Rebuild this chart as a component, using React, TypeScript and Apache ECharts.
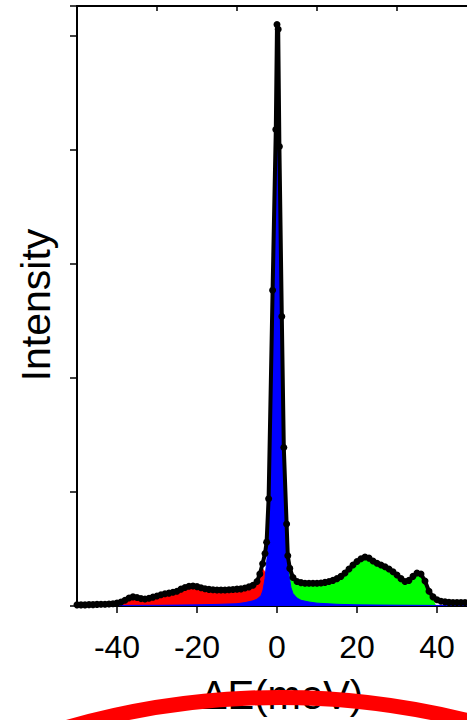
import React, { useEffect, useRef } from "react";
import * as echarts from "echarts";

const energy = [-50,-49,-48,-47,-46,-45,-44,-43,-42,-41,-40,-39,-38,-37,-36,-35,-34,-33,-32,-31,-30,-29,-28,-27,-26,-25,-24,-23,-22,-21,-20,-19,-18,-17,-16,-15,-14,-13,-12,-11,-10,-9,-8,-7,-6,-5,-4.3,-3.6,-3,-2.6,-2.1,-1.1,-0.3,0,0.3,0.6,1.2,1.7,2.4,2.7,3.2,4,5,6,7,8,9,10,11,12,13,14,15,16,17,18,19,20,21,22,23,24,25,26,27,28,29,30,31,32,33,34,35,36,37,38,39,40,41,42,43,44,45,46,47,48];
const intensity = [0.01,0.01,0.01,0.012,0.012,0.014,0.015,0.016,0.018,0.02,0.025,0.035,0.05,0.07,0.08,0.075,0.065,0.062,0.068,0.078,0.088,0.098,0.108,0.113,0.12,0.13,0.148,0.163,0.173,0.176,0.17,0.16,0.152,0.146,0.142,0.14,0.14,0.14,0.143,0.145,0.148,0.15,0.158,0.168,0.182,0.215,0.28,0.37,0.46,0.56,0.94,2.77,4.18,5.1,5.06,4.03,2.54,1.39,0.72,0.44,0.33,0.25,0.215,0.205,0.2,0.2,0.2,0.2,0.202,0.207,0.215,0.225,0.24,0.26,0.29,0.325,0.36,0.39,0.415,0.43,0.42,0.395,0.375,0.36,0.345,0.325,0.3,0.272,0.24,0.215,0.225,0.26,0.29,0.28,0.22,0.13,0.08,0.055,0.042,0.036,0.032,0.03,0.03,0.03,0.03,0.03];

const redEnergy = [-39,-38,-37,-36,-35,-34,-33,-32,-31,-30,-29,-28,-27,-26,-25,-24,-23,-22,-21,-20,-19,-18,-17,-16,-15,-14,-13,-12,-11,-10,-9,-8,-7,-6,-5,-4.3,-3.6,-3,-2,-1,0];
const redValues = [0,0.045,0.065,0.075,0.07,0.06,0.057,0.063,0.073,0.083,0.093,0.103,0.108,0.115,0.125,0.143,0.158,0.168,0.171,0.165,0.155,0.147,0.141,0.137,0.135,0.135,0.135,0.138,0.14,0.143,0.145,0.153,0.163,0.177,0.21,0.27,0.33,0.3,0.25,0.2,0];

const greenEnergy = [0,1,2,2.7,3.2,4,5,6,7,8,9,10,11,12,13,14,15,16,17,18,19,20,21,22,23,24,25,26,27,28,29,30,31,32,33,34,35,36,37,38,39,39.7];
const greenValues = [0.2,0.2,0.22,0.35,0.32,0.245,0.21,0.2,0.195,0.195,0.195,0.195,0.197,0.202,0.21,0.22,0.235,0.255,0.285,0.32,0.355,0.385,0.41,0.425,0.415,0.39,0.37,0.355,0.34,0.32,0.295,0.267,0.235,0.21,0.22,0.255,0.285,0.275,0.215,0.125,0.07,0];

const blueEnergy = [-50,-40,-30,-20,-15,-10,-8,-6,-5,-4,-3.5,-3,-2.5,-2,-1.5,-1,-0.5,0,0.3,0.6,1,1.5,2,2.5,3,3.5,4,5,6,8,10,15,20,30,40,50];
const blueValues = [0.004,0.005,0.006,0.01,0.014,0.02,0.03,0.045,0.06,0.09,0.14,0.24,0.42,0.8,1.5,2.5,3.8,5.0,4.95,4.0,2.9,1.75,1.0,0.5,0.27,0.16,0.11,0.07,0.05,0.035,0.025,0.015,0.01,0.007,0.005,0.004];

const xTickValues = [-40, -20, 0, 20, 40];
const topTickValues = [-30, -10, 10, 30, 50];

const pair = (xs: number[], ys: number[]) => xs.map((x, i) => [x, ys[i]]);

export default function App() {
  const ref = useRef<HTMLDivElement>(null);
  useEffect(() => {
    if (!ref.current) return;
    const chart = echarts.init(ref.current, null, { renderer: "svg" });
    const font = "Liberation Sans, Arial, sans-serif";
    chart.setOption({
      animation: false,
      backgroundColor: "#ffffff",
      grid: { left: 77, top: 6, width: 400, height: 600, containLabel: false, outerBoundsMode: "none" },
      xAxis: [
        {
          type: "value",
          position: "bottom",
          min: -50,
          max: 50,
          axisLine: { show: true, onZero: false, lineStyle: { color: "#000", width: 2 } },
          axisTick: { show: true, inside: false, length: 7, customValues: xTickValues, lineStyle: { color: "#000", width: 1.5 } },
          axisLabel: { show: true, customValues: xTickValues, margin: 25, fontSize: 32, color: "#000", fontFamily: font },
          splitLine: { show: false },
        },
        {
          type: "value",
          position: "top",
          min: -50,
          max: 50,
          axisLine: { show: true, onZero: false, lineStyle: { color: "#000", width: 2 } },
          axisTick: { show: true, inside: true, length: 5, customValues: topTickValues, lineStyle: { color: "#000", width: 1.5 } },
          axisLabel: { show: false },
          splitLine: { show: false },
        },
      ],
      yAxis: {
        type: "value",
        min: 0,
        max: 600 / 114,
        interval: 1,
        axisLine: { show: true, onZero: false, lineStyle: { color: "#000", width: 2 } },
        axisTick: { show: true, inside: false, length: 7, lineStyle: { color: "#000", width: 1.5 } },
        axisLabel: { show: false },
        splitLine: { show: false },
      },
      series: [
        {
          type: "line",
          data: pair(redEnergy, redValues),
          symbol: "none",
          lineStyle: { width: 0.5, color: "#ff0000" },
          areaStyle: { color: "#ff0000", opacity: 1 },
          z: 1,
        },
        {
          type: "line",
          data: pair(greenEnergy, greenValues),
          symbol: "none",
          lineStyle: { width: 0.5, color: "#00ff00" },
          areaStyle: { color: "#00ff00", opacity: 1 },
          z: 2,
        },
        {
          type: "line",
          data: pair(blueEnergy, blueValues),
          symbol: "none",
          lineStyle: { width: 1, color: "#0000ff" },
          areaStyle: { color: "#0000ff", opacity: 1 },
          z: 3,
        },
        {
          type: "line",
          data: pair(energy, intensity),
          symbol: "circle",
          symbolSize: 7,
          showAllSymbol: true,
          itemStyle: { color: "#000" },
          lineStyle: { width: 4, color: "#000" },
          z: 4,
        },
      ],
      graphic: [
        {
          type: "text",
          x: 36,
          y: 305,
          rotation: Math.PI / 2,
          style: { text: "Intensity", fontSize: 41, fontFamily: font, fill: "#000", align: "center", verticalAlign: "middle" },
        },
        {
          type: "text",
          x: 282,
          y: 695,
          style: { text: "ΔE(meV)", fontSize: 40, fontFamily: font, fill: "#000", align: "center", verticalAlign: "middle" },
        },
        {
          type: "circle",
          shape: { cx: 280, cy: 1467.5, r: 770 },
          silent: true,
          z: 100,
          style: { fill: "none", stroke: "#ff0000", lineWidth: 15 },
        },
      ],
    });
    return () => chart.dispose();
  }, []);
  return <div ref={ref} style={{ position: "fixed", left: 0, top: 0, width: 467, height: 720 }} />;
}
